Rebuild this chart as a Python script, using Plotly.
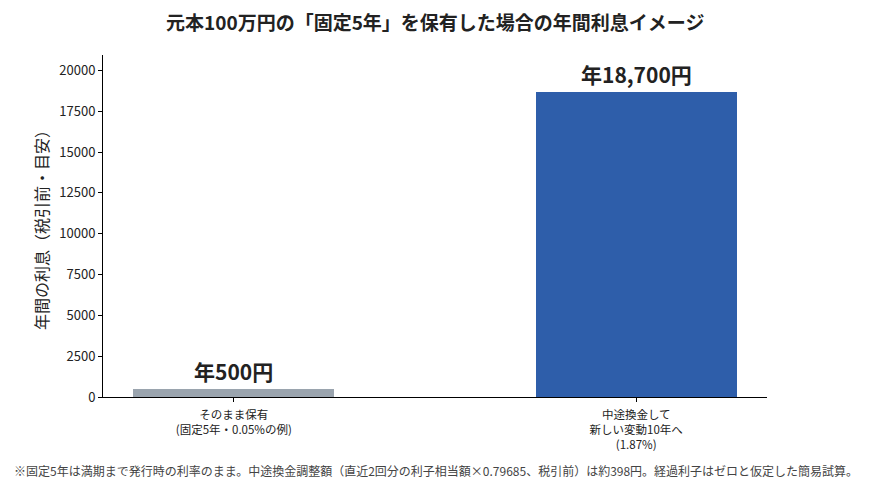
import plotly.graph_objects as go

categories = ["そのまま保有<br>(固定5年・0.05%の例)", "中途換金して<br>新しい変動10年へ<br>(1.87%)"]
values = [500, 18700]
colors = ["#9AA4AE", "#2E5EAA"]
title = "元本100万円の「固定5年」を保有した場合の年間利息イメージ"
y_title = "年間の利息（税引前・目安）"
footnote = "※固定5年は満期まで発行時の利率のまま。中途換金調整額（直近2回分の利子相当額×0.79685、税引前）は約398円。経過利子はゼロと仮定した簡易試算。"
tick_vals = [0, 2500, 5000, 7500, 10000, 12500, 15000, 17500, 20000]

FONT = "Noto Sans CJK JP"

fig = go.Figure()
fig.add_trace(go.Bar(
    x=list(range(len(categories))), y=values, width=0.5,
    marker=dict(color=colors, line=dict(width=0)),
    hoverinfo="skip",
))

for i, v in enumerate(values):
    fig.add_annotation(x=i, y=v, text=f"<b>年{v:,}円</b>", showarrow=False,
                       yanchor="bottom", yshift=1,
                       font=dict(family=FONT, size=21, color="#222222"))

fig.add_annotation(x=0.5, y=1.0, xref="paper", yref="paper", yanchor="bottom",
                   yshift=18, text=f"<b>{title}</b>", showarrow=False,
                   font=dict(family=FONT, size=19, color="#222222"))
fig.add_annotation(x=-0.137, y=-0.215, xref="paper", yref="paper",
                   xanchor="left", yanchor="middle", text=footnote, showarrow=False,
                   font=dict(family=FONT, size=12, color="#444444"))

fig.update_layout(
    width=862, height=494,
    margin=dict(l=95, r=103, t=47, b=105),
    paper_bgcolor="white", plot_bgcolor="white",
    showlegend=False,
    font=dict(family=FONT, size=12, color="#222222"),
    bargap=0,
)
fig.update_xaxes(
    range=[-0.325, 1.325],
    tickmode="array", tickvals=list(range(len(categories))), ticktext=categories,
    showline=True, linecolor="black", linewidth=1,
    ticks="outside", ticklen=4, tickcolor="black",
    showgrid=False, zeroline=False,
    ticklabelstandoff=3,
    tickfont=dict(family=FONT, size=11.5, color="#222222"),
)
fig.update_yaxes(
    range=[0, max(values) * 1.12],
    tickmode="array", tickvals=tick_vals, ticktext=[str(t) for t in tick_vals],
    showline=True, linecolor="black", linewidth=1,
    ticks="outside", ticklen=4, tickcolor="black",
    showgrid=False, zeroline=False,
    title=dict(text=y_title, font=dict(family=FONT, size=16, color="#222222"), standoff=6),
    tickfont=dict(family=FONT, size=13, color="#222222"),
)

fig.write_html("out.html")
